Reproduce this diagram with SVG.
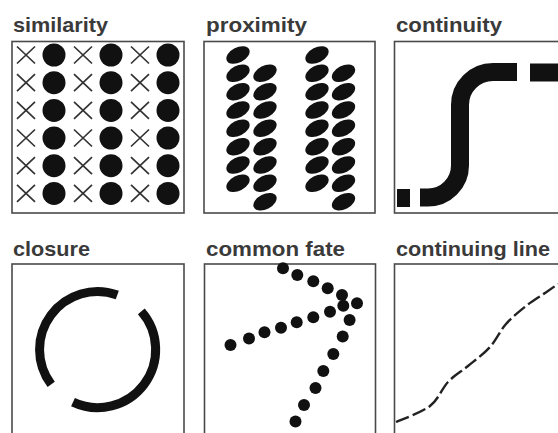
<svg xmlns="http://www.w3.org/2000/svg" width="558" height="433" viewBox="0 0 558 433">
<style>
.lbl{font-family:"Liberation Sans",Arial,sans-serif;font-weight:bold;font-size:21px;fill:#3a3a3a}
.box{fill:#fff;stroke:#4a4a4a;stroke-width:1.6}
.dot{fill:#111}
.x{stroke:#333;stroke-width:1.7;fill:none}
.ell{fill:#111}
.thick{fill:none;stroke:#111;stroke-width:18}
.arc{fill:none;stroke:#111;stroke-width:9}
</style>
<defs>
<path id="xm" class="x" d="M-9,-8.5 L9,8.5 M-9,8.5 L9,-8.5"/>
<ellipse id="el" class="ell" rx="12.5" ry="7.5" transform="rotate(-27)"/>
</defs>
<rect width="558" height="433" fill="#fff"/>

<g id="similarity">
<text class="lbl" x="13" y="32" textLength="95" lengthAdjust="spacingAndGlyphs">similarity</text>
<rect class="box" x="12" y="41.5" width="172" height="171.5"/>
<g id="sim-grid">
<use href="#xm" x="26" y="55"/><circle class="dot" cx="54" cy="55" r="11.5"/><use href="#xm" x="83" y="55"/><circle class="dot" cx="111" cy="55" r="11.5"/><use href="#xm" x="140" y="55"/><circle class="dot" cx="168" cy="55" r="11.5"/>
<use href="#xm" x="26" y="82.7"/><circle class="dot" cx="54" cy="82.7" r="11.5"/><use href="#xm" x="83" y="82.7"/><circle class="dot" cx="111" cy="82.7" r="11.5"/><use href="#xm" x="140" y="82.7"/><circle class="dot" cx="168" cy="82.7" r="11.5"/>
<use href="#xm" x="26" y="110.4"/><circle class="dot" cx="54" cy="110.4" r="11.5"/><use href="#xm" x="83" y="110.4"/><circle class="dot" cx="111" cy="110.4" r="11.5"/><use href="#xm" x="140" y="110.4"/><circle class="dot" cx="168" cy="110.4" r="11.5"/>
<use href="#xm" x="26" y="138"/><circle class="dot" cx="54" cy="138" r="11.5"/><use href="#xm" x="83" y="138"/><circle class="dot" cx="111" cy="138" r="11.5"/><use href="#xm" x="140" y="138"/><circle class="dot" cx="168" cy="138" r="11.5"/>
<use href="#xm" x="26" y="165.7"/><circle class="dot" cx="54" cy="165.7" r="11.5"/><use href="#xm" x="83" y="165.7"/><circle class="dot" cx="111" cy="165.7" r="11.5"/><use href="#xm" x="140" y="165.7"/><circle class="dot" cx="168" cy="165.7" r="11.5"/>
<use href="#xm" x="26" y="193.4"/><circle class="dot" cx="54" cy="193.4" r="11.5"/><use href="#xm" x="83" y="193.4"/><circle class="dot" cx="111" cy="193.4" r="11.5"/><use href="#xm" x="140" y="193.4"/><circle class="dot" cx="168" cy="193.4" r="11.5"/>
</g>
</g>

<g id="proximity">
<text class="lbl" x="206" y="32" textLength="101" lengthAdjust="spacingAndGlyphs">proximity</text>
<rect class="box" x="204" y="41.5" width="171" height="171.5"/>
<g id="prox-ellipses">
<use href="#el" x="238" y="55"/><use href="#el" x="238" y="73.3"/><use href="#el" x="238" y="91.7"/><use href="#el" x="238" y="110"/><use href="#el" x="238" y="128.3"/><use href="#el" x="238" y="146.7"/><use href="#el" x="238" y="165"/><use href="#el" x="238" y="183.3"/>
<use href="#el" x="265" y="73.3"/><use href="#el" x="265" y="91.7"/><use href="#el" x="265" y="110"/><use href="#el" x="265" y="128.3"/><use href="#el" x="265" y="146.7"/><use href="#el" x="265" y="165"/><use href="#el" x="265" y="183.3"/><use href="#el" x="265" y="201.7"/>
<use href="#el" x="317" y="55"/><use href="#el" x="317" y="73.3"/><use href="#el" x="317" y="91.7"/><use href="#el" x="317" y="110"/><use href="#el" x="317" y="128.3"/><use href="#el" x="317" y="146.7"/><use href="#el" x="317" y="165"/><use href="#el" x="317" y="183.3"/>
<use href="#el" x="343.5" y="73.3"/><use href="#el" x="343.5" y="91.7"/><use href="#el" x="343.5" y="110"/><use href="#el" x="343.5" y="128.3"/><use href="#el" x="343.5" y="146.7"/><use href="#el" x="343.5" y="165"/><use href="#el" x="343.5" y="183.3"/><use href="#el" x="343.5" y="201.7"/>
</g>
</g>

<g id="continuity">
<text class="lbl" x="396" y="32" textLength="106" lengthAdjust="spacingAndGlyphs">continuity</text>
<rect class="box" x="394.5" y="41.5" width="180" height="171.5"/>
<rect x="397" y="189" width="13" height="18" fill="#111"/>
<path class="thick" d="M420,197.5 L428,197.5 A32,32 0 0 0 460,165.5 L460,105 A33,33 0 0 1 493,72 L517,72"/>
<rect x="530" y="63.5" width="30" height="18" fill="#111"/>
</g>

<g id="closure">
<text class="lbl" x="13" y="256" textLength="77" lengthAdjust="spacingAndGlyphs">closure</text>
<rect class="box" x="12" y="264" width="172" height="180"/>
<path class="arc" d="M51.2,384.4 A58,58 0 0 1 117.3,295"/>
<path class="arc" d="M141.3,311.4 A58,58 0 0 1 73,402.1"/>
</g>

<g id="common-fate">
<text class="lbl" x="206" y="256" textLength="139" lengthAdjust="spacingAndGlyphs">common fate</text>
<rect class="box" x="204.5" y="264" width="171" height="180"/>
<g id="fate-dots" class="dot">
<circle cx="283" cy="268.3" r="6"/><circle cx="297.3" cy="275" r="6"/><circle cx="313.3" cy="281.3" r="6"/><circle cx="327.7" cy="288.3" r="6"/><circle cx="342" cy="295" r="6"/><circle cx="357" cy="303.3" r="6"/>
<circle cx="230.5" cy="345" r="6"/><circle cx="249" cy="338.5" r="6"/><circle cx="264.5" cy="332.3" r="6"/><circle cx="281" cy="327.7" r="6"/><circle cx="296.7" cy="322.3" r="6"/><circle cx="313.3" cy="317.3" r="6"/><circle cx="330" cy="311.7" r="6"/><circle cx="343.3" cy="305.7" r="6"/>
<circle cx="349.6" cy="320" r="6"/><circle cx="342.7" cy="336.5" r="6"/><circle cx="333.3" cy="354" r="6"/><circle cx="323.3" cy="371" r="6"/><circle cx="315.5" cy="388" r="6"/><circle cx="304" cy="405" r="6"/><circle cx="295.5" cy="421.5" r="6"/>
</g>
</g>

<g id="continuing-line">
<text class="lbl" x="396" y="256" textLength="154" lengthAdjust="spacingAndGlyphs">continuing line</text>
<rect class="box" x="394.5" y="264" width="180" height="180"/>
<path fill="none" stroke="#222" stroke-width="2.4" stroke-dasharray="14 4" d="M396,422 C401.7,419.3 421.3,412.7 430,406 C438.7,399.3 441.7,388.7 448,382 C454.3,375.3 461,371.8 468,366 C475,360.2 483.7,354 490,347 C496.3,340 500,330.8 506,324 C512,317.2 519.5,311.2 526,306 C532.5,300.8 539.7,296.7 545,293 C550.3,289.3 555.8,285.5 558,284"/>
</g>
<g id="connectors"/>
</svg>
